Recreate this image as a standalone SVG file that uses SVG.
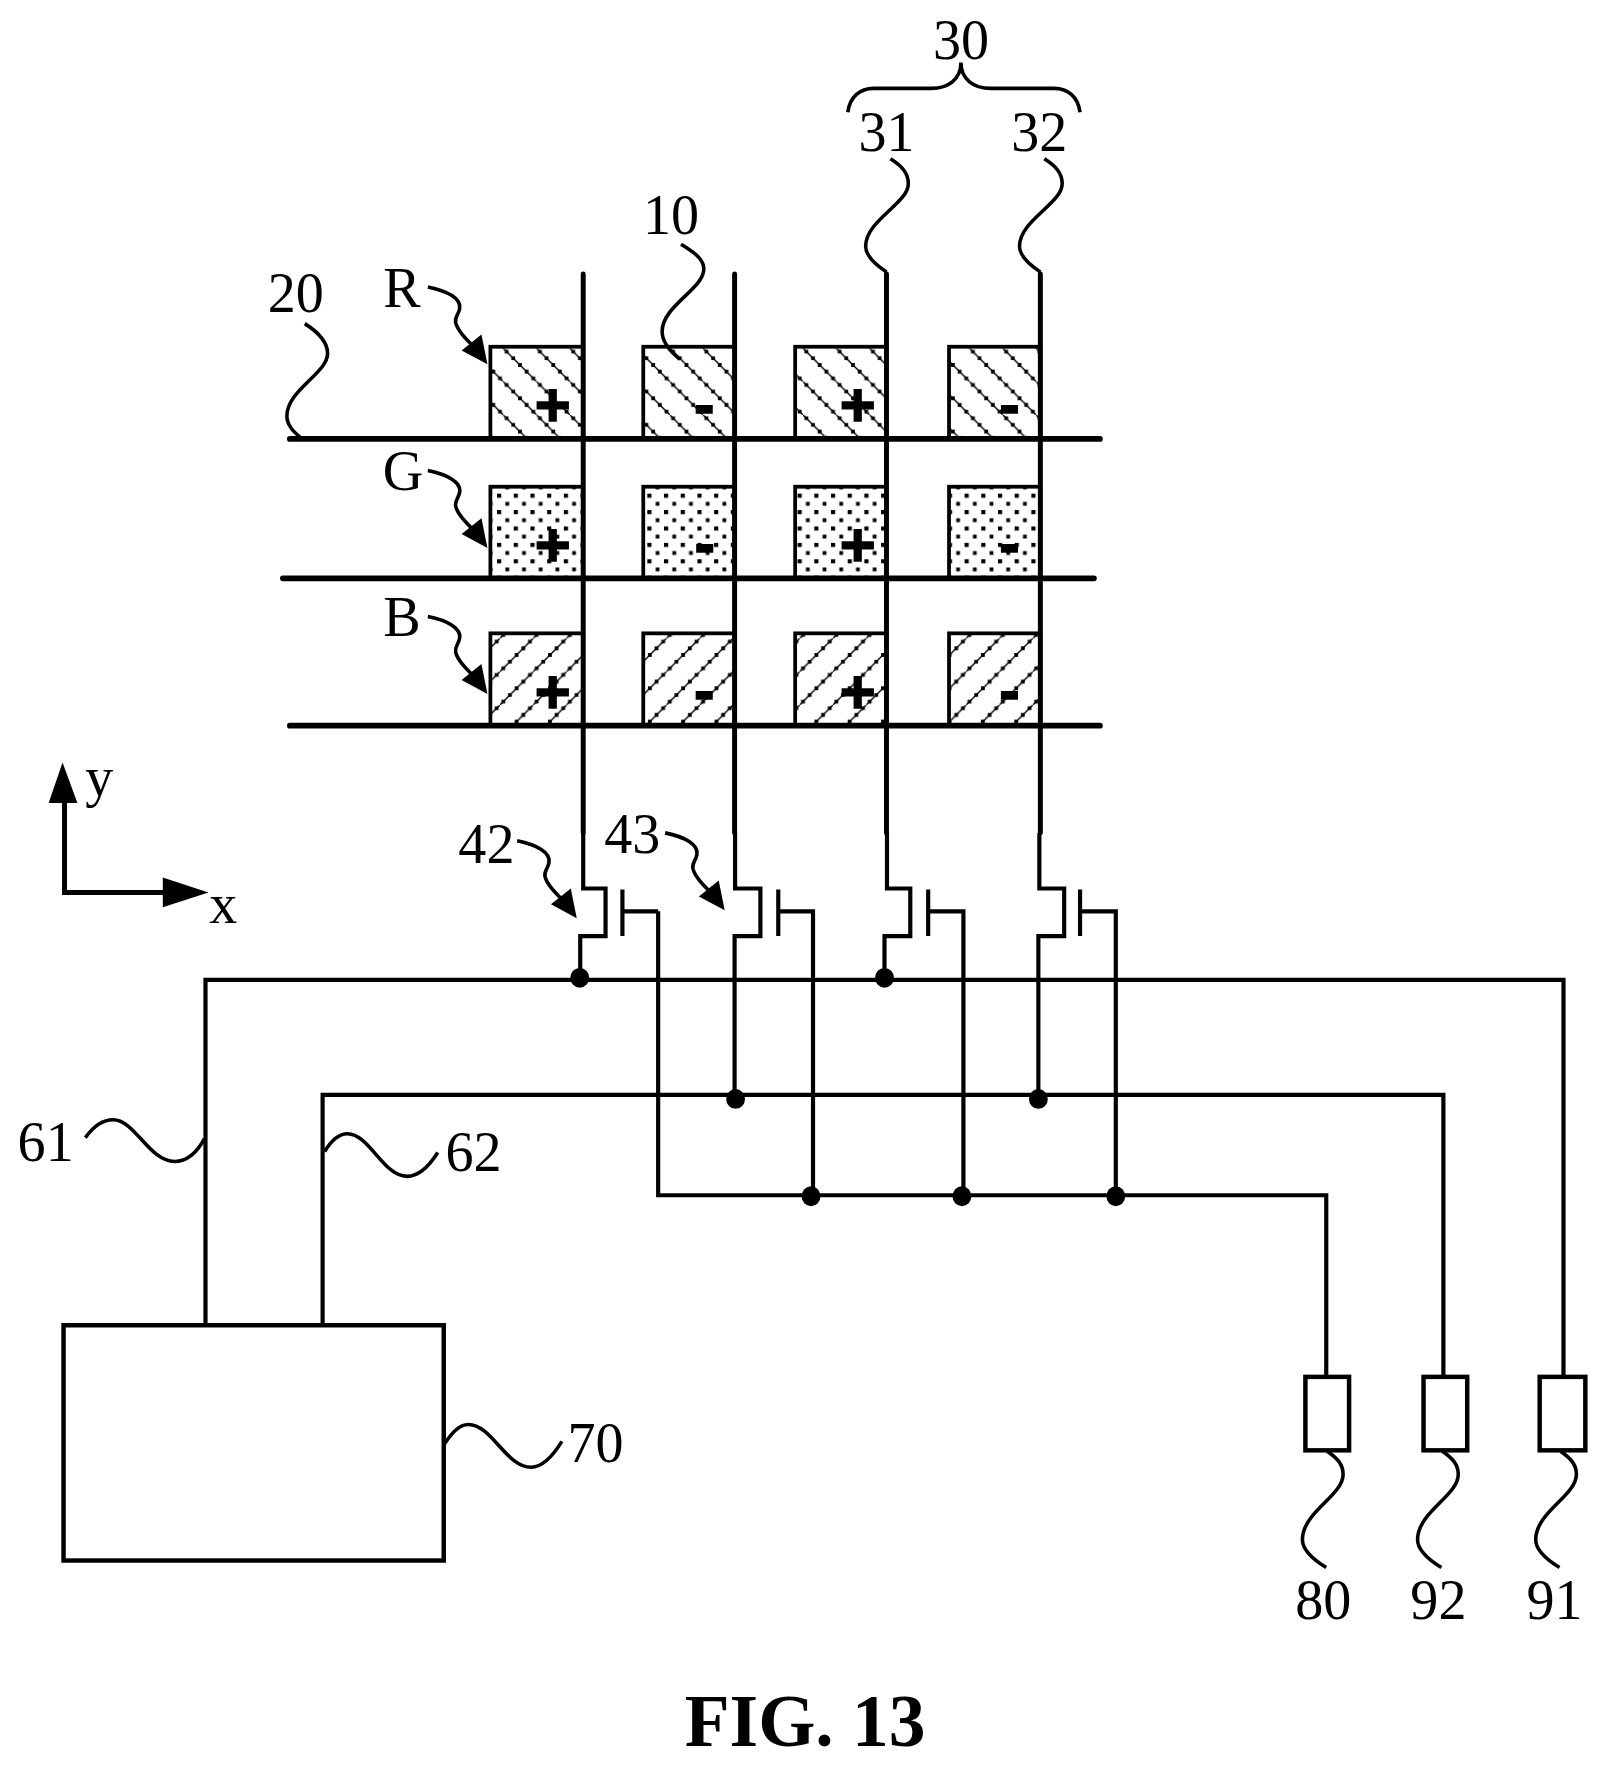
<svg xmlns="http://www.w3.org/2000/svg" xmlns:xlink="http://www.w3.org/1999/xlink" width="1608" height="1768" viewBox="0 0 1608 1768">
<style>
text{font-family:"Liberation Serif","Times New Roman",serif;font-size:56.5px;fill:#000;text-anchor:middle}
.sign{font-family:"Liberation Sans",Arial,sans-serif;font-weight:700;font-size:62px;stroke:#000;stroke-width:1.5px}
.title{font-weight:700;font-size:74px}
.w{fill:none;stroke:#000;stroke-width:4.2;stroke-linejoin:miter}
.g{fill:none;stroke:#000;stroke-width:5;stroke-linecap:round}
.h{fill:none;stroke:#000;stroke-width:5.8;stroke-linecap:round}
.l{fill:none;stroke:#000;stroke-width:3.6}
.c{stroke:#000;stroke-width:3.8}
.box{fill:#fff;stroke:#000;stroke-width:4.5}
</style>
<defs>
<pattern id="hr" patternUnits="userSpaceOnUse" width="33.55" height="33.55" x="507" y="350.9"><path d="M0 0L33.55 33.55" stroke="#000" stroke-width="1.4" fill="none"/><path d="M1.45 1.45h3.8v3.8h-3.8zM8.16 8.16h3.8v3.8h-3.8zM14.87 14.87h3.8v3.8h-3.8zM21.58 21.58h3.8v3.8h-3.8zM28.29 28.29h3.8v3.8h-3.8z" fill="#000"/></pattern>
<pattern id="hb" patternUnits="userSpaceOnUse" width="33.55" height="33.55" x="537.2" y="609.45"><path d="M0 33.55L33.55 0" stroke="#000" stroke-width="1.4" fill="none"/><path d="M1.45 28.3h3.8v3.8h-3.8zM8.16 21.59h3.8v3.8h-3.8zM14.87 14.88h3.8v3.8h-3.8zM21.58 8.17h3.8v3.8h-3.8zM28.29 1.46h3.8v3.8h-3.8z" fill="#000"/></pattern>
<pattern id="hg" patternUnits="userSpaceOnUse" width="16.82" height="16.52" x="500.7" y="497.3"><path d="M0 0h4.2v4.2h-4.2zM8.41 8.26h3.8v3.8h-3.8z" fill="#000"/></pattern>
<path id="sq" class="l" d="m0 0c11 7 18 14 18 25c0 20-43 37-43 63c0 10 12 20 21 26"/>
<path id="sqb" class="l" d="m0 0c10 7 16 13 16 23c0 22-41 38-41 66c0 11 11 20 24 28"/>
<g id="arw"><path class="l" d="M0 0C20 4 34 12 32 22C31 28 27 30 28 36C30 44 38 52 46 60"/><path d="M60 78L54 48L34 64z" fill="#000"/></g>
</defs>
<g transform="scale(0.9927)">
<g id="connectors">
<path class="w" d="M207 1335V987H1575V1387"/>
<path class="w" d="M325 1335V1103H1454V1387"/>
<path class="w" d="M663 918V1204H1336V1387"/>
<path class="g" d="M587.5 276V839M740 276V839M893 276V839M1048 276V839"/>
<path class="h" d="M292 442.2H1108M285 582.6H1102M292 731H1108"/>
<path class="w" d="M587.5 839V895H610V943H584.5V987"/>
<path class="w" d="M740.5 839V895H766V943H740V1107"/>
<path class="w" d="M893.5 839V895H917V943H891V987"/>
<path class="w" d="M1047 839V895H1072V943H1046V1107"/>
<path class="w" d="M627 896V943M627 918H663"/>
<path class="w" d="M784 896V943M784 918H819V1205"/>
<path class="w" d="M935 896V943M935 918H970.5V1205"/>
<path class="w" d="M1088 896V943M1088 918H1124V1205"/>
<ellipse cx="584" cy="985" rx="9.5" ry="10"/><ellipse cx="891" cy="985" rx="9.5" ry="10"/>
<ellipse cx="741" cy="1107" rx="9.5" ry="10"/><ellipse cx="1046" cy="1107" rx="9.5" ry="10"/>
<ellipse cx="817" cy="1205" rx="9.5" ry="10"/><ellipse cx="969" cy="1205" rx="9.5" ry="10"/><ellipse cx="1124" cy="1205" rx="9.5" ry="10"/>
</g>
<g id="cells">
<g id="r"><rect class="c" x="494" y="349.3" width="93.5" height="92.9" fill="url(#hr)"/><rect class="c" x="648" y="349.3" width="92" height="92.9" fill="url(#hr)"/><rect class="c" x="801" y="349.3" width="92" height="92.9" fill="url(#hr)"/><rect class="c" x="956" y="349.3" width="92" height="92.9" fill="url(#hr)"/></g>
<g id="g"><rect class="c" x="494" y="490.3" width="93.5" height="92.3" fill="url(#hg)"/><rect class="c" x="648" y="490.3" width="92" height="92.3" fill="url(#hg)"/><rect class="c" x="801" y="490.3" width="92" height="92.3" fill="url(#hg)"/><rect class="c" x="956" y="490.3" width="92" height="92.3" fill="url(#hg)"/></g>
<g id="b"><rect class="c" x="494" y="638" width="93.5" height="93" fill="url(#hb)"/><rect class="c" x="648" y="638" width="92" height="93" fill="url(#hb)"/><rect class="c" x="801" y="638" width="92" height="93" fill="url(#hb)"/><rect class="c" x="956" y="638" width="92" height="93" fill="url(#hb)"/></g>
<text class="sign" x="556.8" y="429.5">+</text><text class="sign" x="709.5" y="428.3">-</text><text class="sign" x="864" y="429.5">+</text><text class="sign" x="1017" y="428.3">-</text>
<text class="sign" x="556.8" y="570.2">+</text><text class="sign" x="710" y="568">-</text><text class="sign" x="864" y="570.2">+</text><text class="sign" x="1017" y="568">-</text>
<text class="sign" x="556.8" y="718.3">+</text><text class="sign" x="709.5" y="716">-</text><text class="sign" x="864" y="718.3">+</text><text class="sign" x="1017" y="716">-</text>
</g>
<g id="axes">
<path class="g" d="M65 808V899H170"/>
<path d="M49 809L63 768L78 809zM164 884L210 899L164 914z" fill="#000"/>
<text x="100" y="802">y</text><text x="225" y="930">x</text>
</g>
<g id="terminals">
<rect id="n80" class="box" x="1315" y="1387" width="44" height="74"/>
<rect id="n92" class="box" x="1434" y="1387" width="44" height="74"/>
<rect id="n91" class="box" x="1551" y="1387" width="46" height="74"/>
<rect id="n70" class="box" x="64" y="1335" width="383" height="237"/>
</g>
<g id="leaders">
<path class="l" d="M854 113C856 98 866 89 880 89H938C955 89 968 80 968 63C968 80 981 89 998 89H1062C1076 89 1086 98 1088 113"/>
<use href="#sq" x="897" y="160"/><use href="#sq" x="1052" y="160"/>
<path class="l" d="M686 246c11 7 23 14 23 25c0 20-42 37-42 63c0 10 8 20 18 28"/>
<path class="l" d="M307 326c11 7 23 18 23 30c0 20-41 37-41 63c0 10 8 17 14 22"/>
<use href="#arw" x="431" y="289"/><use href="#arw" x="431" y="474"/><use href="#arw" x="431" y="621"/>
<use href="#arw" x="521" y="847"/><use href="#arw" x="670" y="839"/>
<use href="#sqb" x="1337" y="1462"/><use href="#sqb" x="1453" y="1462"/><use href="#sqb" x="1572" y="1462"/>
<path class="l" d="M86 1146C96 1132 106 1128 114 1128C136 1128 150 1170 176 1170C190 1170 200 1158 206 1147"/>
<path class="l" d="M327 1160C333 1150 340 1142 350 1142C372 1142 386 1185 410 1185C423 1185 434 1172 441 1161"/>
<path class="l" d="M448 1454C455 1444 462 1435 472 1435C495 1435 510 1478 535 1478C548 1478 558 1465 566 1452"/>
</g>
<g id="labels">
<text x="968" y="59">30</text><text x="893" y="152">31</text><text x="1047" y="152">32</text>
<text x="676" y="236">10</text><text x="298" y="314">20</text>
<text x="405" y="309">R</text><text x="406" y="494">G</text><text x="405" y="641">B</text>
<text x="490" y="869">42</text><text x="637" y="859">43</text>
<text x="46" y="1170">61</text><text x="477" y="1180">62</text><text x="600" y="1473">70</text>
<text x="1333" y="1631">80</text><text x="1449" y="1631">92</text><text x="1566" y="1631">91</text>
<text class="title" x="811" y="1759">FIG. 13</text>
</g>
</g>
</svg>
